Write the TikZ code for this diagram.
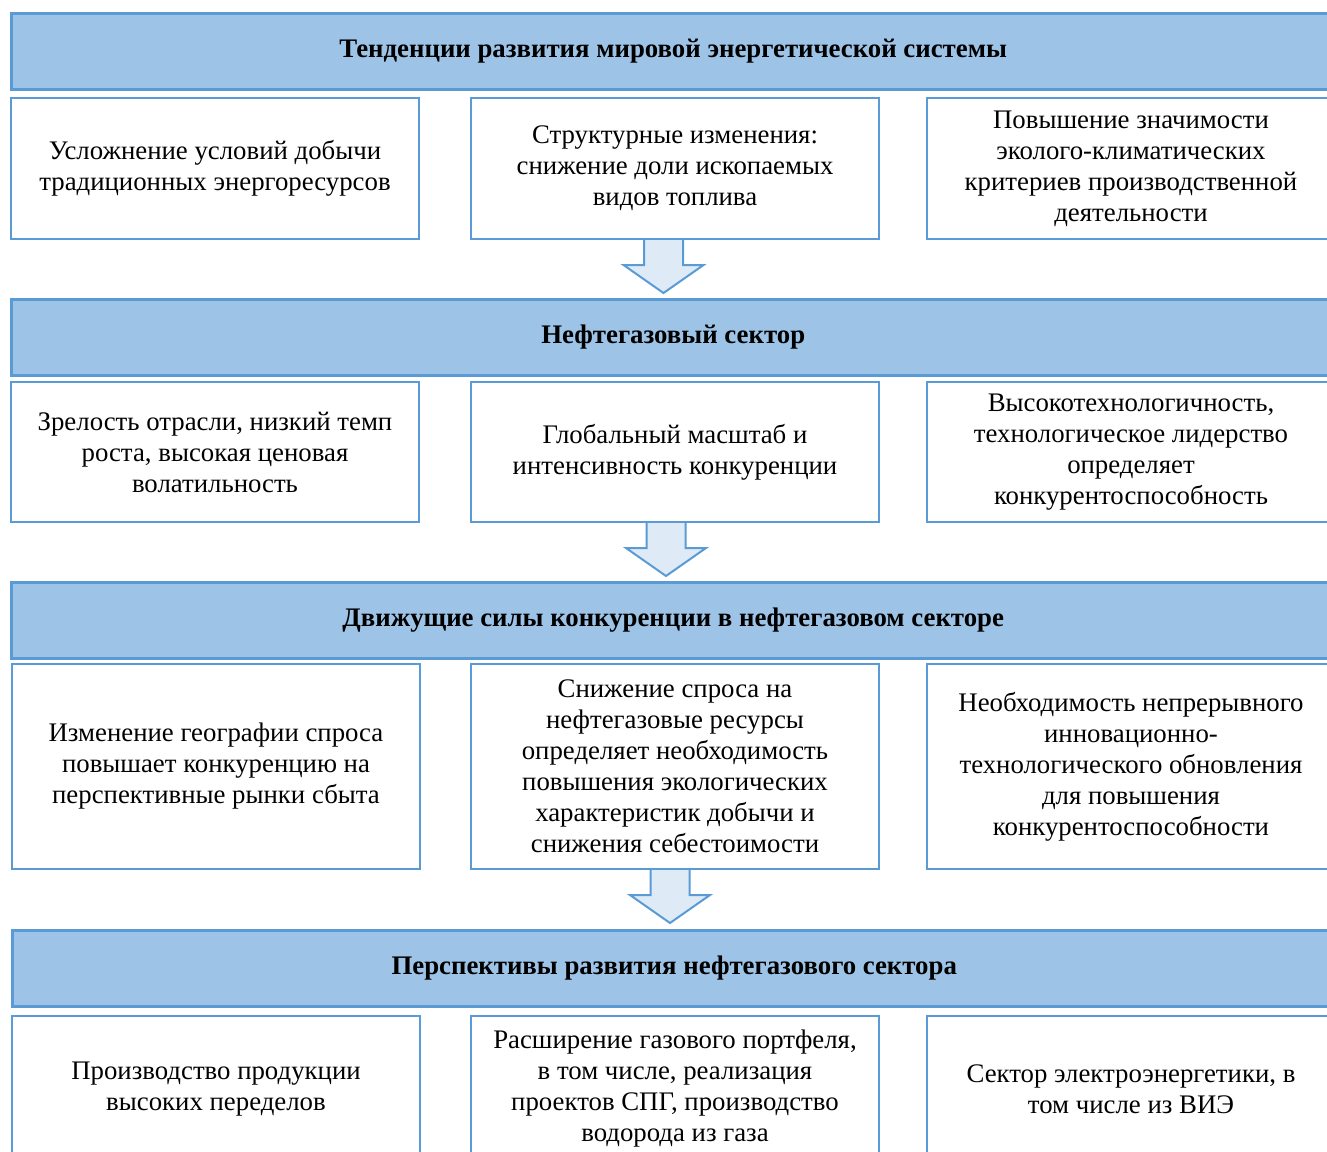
\documentclass[tikz,border=0pt]{standalone}
\usepackage{fontspec}
\setmainfont{Liberation Serif}
\usetikzlibrary{calc}
\definecolor{hdrfill}{HTML}{9DC3E6}
\definecolor{edgeblue}{HTML}{5B9BD5}
\definecolor{arrfill}{HTML}{DEEBF7}
\tikzset{
  hdr/.style={draw=edgeblue, fill=hdrfill, line width=2.5pt, minimum width=1324pt, minimum height=76pt,
    anchor=north west, inner sep=0pt, align=center, font=\bfseries\fontsize{26.8}{31}\selectfont},
  cell/.style={draw=edgeblue, fill=white, line width=2pt, minimum width=408pt,
    anchor=north west, inner sep=0pt, align=center, font=\fontsize{26.8}{31}\selectfont},
  pics/downarrow/.style={code={
    \fill[arrfill] (-19.5,0) -- (-19.5,25) -- (-40,25) -- (0,53) -- (40,25) -- (19.5,25) -- (19.5,0) -- cycle;
    \draw[edgeblue, line width=2pt, line join=miter] (-19.5,0) -- (-19.5,25) -- (-40,25) -- (0,53) -- (40,25) -- (19.5,25) -- (19.5,0);
  }}
}
\begin{document}
\begin{tikzpicture}[x=1pt,y=-1pt]
\useasboundingbox (0,0) rectangle (1327,1151);
\clip (0,0) rectangle (1327,1151);
% Block 1
\node[hdr] (h1) at (10,12) {Тенденции развития мировой энергетической системы};
\node[cell, minimum height=141pt] (b11) at (10,97) {Усложнение условий добычи\\традиционных энергоресурсов};
\node[cell, minimum height=141pt] (b12) at (470,97) {Структурные изменения:\\снижение доли ископаемых\\видов топлива};
\node[cell, minimum height=141pt] (b13) at (926,97) {Повышение значимости\\эколого-климатических\\критериев производственной\\деятельности};
\pic at ($(b12.south)+(-11.5,0)$) {downarrow};
% Block 2
\node[hdr] (h2) at (10,298) {Нефтегазовый сектор};
\node[cell, minimum height=140pt] (b21) at (10,381) {Зрелость отрасли, низкий темп\\роста, высокая ценовая\\волатильность};
\node[cell, minimum height=140pt] (b22) at (470,381) {Глобальный масштаб и\\интенсивность конкуренции};
\node[cell, minimum height=140pt] (b23) at (926,381) {Высокотехнологичность,\\технологическое лидерство\\определяет\\конкурентоспособность};
\pic at ($(b22.south)+(-9,0)$) {downarrow};
% Block 3
\node[hdr] (h3) at (10,581) {Движущие силы конкуренции в нефтегазовом секторе};
\node[cell, minimum height=205pt] (b31) at (11,663) {Изменение географии спроса\\повышает конкуренцию на\\перспективные рынки сбыта};
\node[cell, minimum height=205pt] (b32) at (470,663) {Снижение спроса на\\нефтегазовые ресурсы\\определяет необходимость\\повышения экологических\\характеристик добычи и\\снижения себестоимости};
\node[cell, minimum height=205pt] (b33) at (926,663) {Необходимость непрерывного\\инновационно-\\технологического обновления\\для повышения\\конкурентоспособности};
\pic at ($(b32.south)+(-5,0)$) {downarrow};
% Block 4
\node[hdr] (h4) at (11,929) {Перспективы развития нефтегазового сектора};
\node[cell, minimum height=146pt] (b41) at (11,1015) {Производство продукции\\высоких переделов};
\node[cell, minimum height=146pt] (b42) at (470,1015) {Расширение газового портфеля,\\в том числе, реализация\\проектов СПГ, производство\\водорода из газа};
\node[cell, minimum height=146pt] (b43) at (926,1015) {Сектор электроэнергетики, в\\том числе из ВИЭ};
\end{tikzpicture}
\end{document}
